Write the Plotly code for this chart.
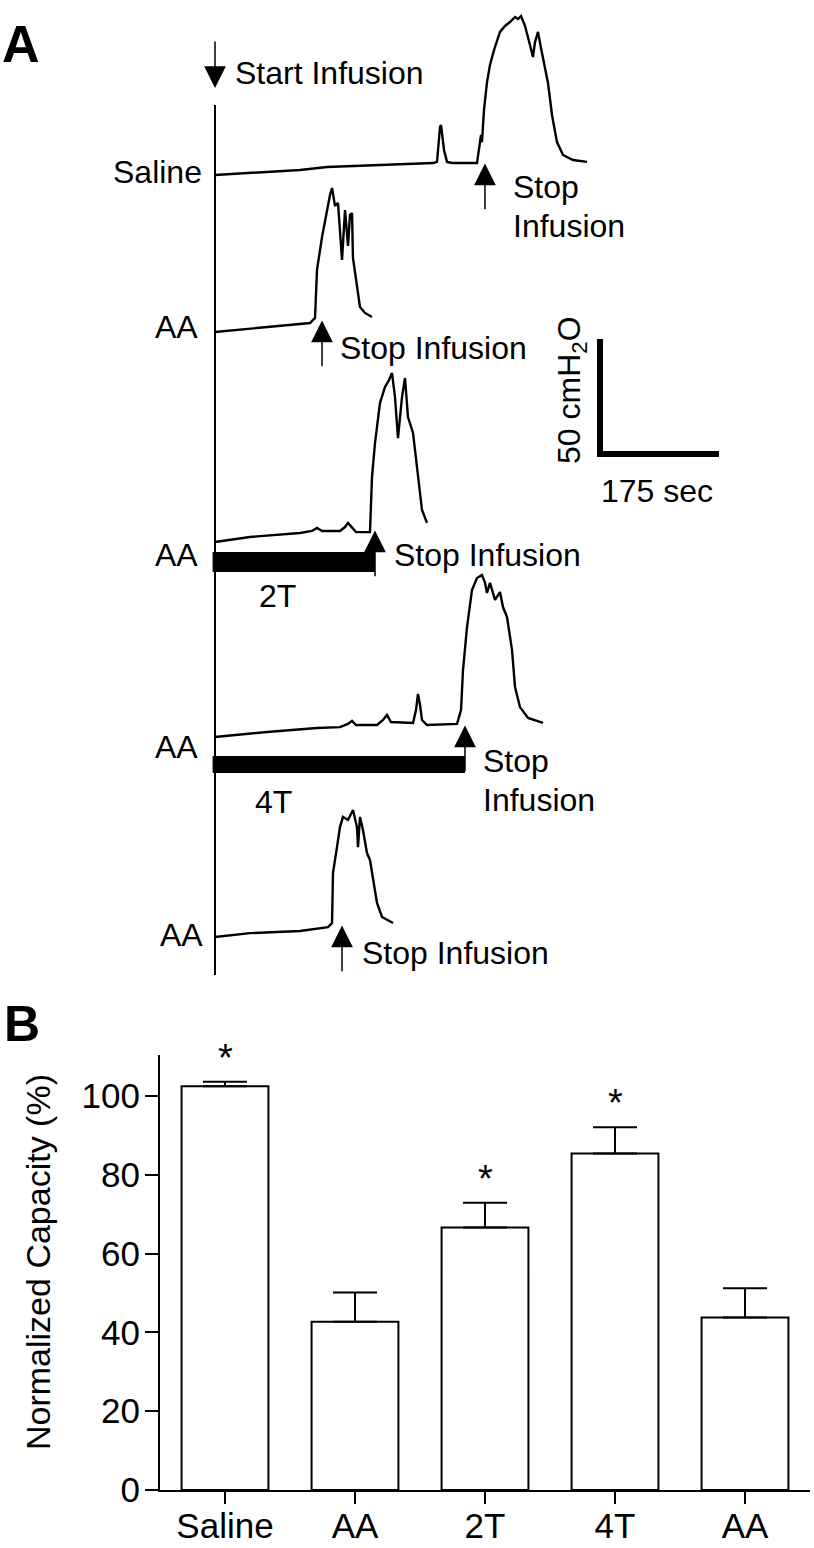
import plotly.graph_objects as go

# ---------------- Panel A data: cystometrogram traces ----------------
# time (s) from start of infusion, pressure (cmH2O) relative to trace baseline
saline_t = [0, 51.5, 125, 164.7, 272, 320.6, 326.5, 330.9, 332.4, 336.8, 341.2, 348.5, 385.3, 388.2,
            391.2, 392.6, 395.6, 400, 404.4, 410.3, 419.1, 426.5, 433.8, 441.2, 445.6, 450, 455.9,
            463.2, 467.6, 470.6, 475, 479.4, 483.8, 489.7, 495.6, 502.9, 511.8, 526.5, 547.1]
saline_p = [0, 0.9, 2.2, 3.5, 4.8, 5.2, 5.7, 20.9, 21.7, 10.9, 5.7, 5.2, 5.2, 10.9,
            17.4, 14.3, 28.3, 40.4, 47.8, 54.3, 62.2, 64.8, 66.5, 68.7, 67.8, 69.1, 64.8,
            56.5, 51.3, 57.8, 62.2, 55.2, 49.1, 40.0, 26.1, 14.3, 8.7, 6.5, 5.7]

aa1_t = [0, 76.5, 139.7, 147.1, 150, 157.4, 164.7, 169.1, 172.1, 176.5, 180.9, 186.8, 191.2,
         195.6, 198.5, 201.5, 202.9, 208.8, 213.2, 220.6, 230.9]
aa1_p = [0, 2.2, 3.9, 6.1, 27, 41.3, 53, 59.6, 62.6, 54.8, 56.1, 31.3, 53,
         37.4, 50.9, 51.7, 32.2, 19.6, 10.9, 8.3, 6.5]

aa2t_t = [0, 51.5, 125, 142.6, 150, 157.4, 183.8, 191.2, 195.6, 201.5, 207.4, 227.9, 230.9, 235.3,
          239.7, 242.6, 250, 255.9, 260.3, 264.7, 269.1, 272.1, 275, 279.4, 283.8, 291.2, 297.1,
          304.4, 311.8]
aa2t_p = [0, 2.2, 3.9, 4.8, 6.1, 4.8, 4.8, 6.5, 8.3, 6.1, 4.3, 4.3, 28.3, 43,
          53, 60.4, 67.4, 70.4, 73.5, 63, 45.2, 53, 63, 71.3, 54.3, 47.4, 31.3,
          13.9, 8.3]

aa4t_t = [0, 76.5, 150, 183.8, 195.6, 201.5, 207.4, 238.2, 247.1, 252.9, 258.8, 291.2, 295.6,
          298.5, 301.5, 304.4, 311.8, 355.9, 361.8, 364.7, 370.6, 377.9, 385.3, 392.6, 397.1,
          400, 404.4, 411.8, 419.1, 423.5, 429.4, 436.8, 441.2, 448.5, 460.3, 482.4]
aa4t_p = [0, 2.2, 3.9, 4.3, 5.7, 7, 5.2, 5.2, 7.4, 9.6, 6.5, 6.1, 11.7,
          18.7, 13.9, 7.4, 5.2, 5.7, 11.7, 29.1, 47.8, 63.9, 69.1, 70.4, 67,
          62.6, 67, 59.6, 63, 56.5, 52.2, 37.8, 21.7, 13, 8.3, 6.1]

aa5_t = [0, 51.5, 125, 166.2, 172.1, 173.5, 179.4, 183.8, 188.2, 195.6, 202.9, 208.8, 210.3,
         213.2, 217.6, 223.5, 227.9, 232.4, 238.2, 245.6, 261.8]
aa5_p = [0, 1.7, 2.6, 4.3, 6.1, 27.8, 39.1, 47.8, 52.2, 50.9, 55.2, 47.8, 39.1,
         52.2, 46.5, 36.5, 33.5, 24.8, 14.8, 8.7, 6.1]

row_labels = ["Saline", "AA", "AA", "AA", "AA"]
stop_times = [397, 157.4, 235.3, 367.6, 186.8]
treat_labels = {2: "2T", 3: "4T"}
scale_time = 175      # sec
scale_press = 50      # cmH2O

# ---------------- Panel B data ----------------
groups = ["Saline", "AA", "2T", "4T", "AA"]
capacity = [102.5, 42.7, 66.6, 85.4, 43.8]
sem = [1.1, 7.4, 6.3, 6.7, 7.4]
signif = [True, False, True, True, False]
yticks = [0, 20, 40, 60, 80, 100]

# ---------------- layout constants ----------------
W, H = 814, 1548
PX_S = 0.68       # px per second
PX_CM = 2.3       # px per cmH2O
T0_PX = 215       # x pixel of infusion start
ROW_PX = [175, 332, 542, 737, 937]
row_off = [(H - b) / PX_CM for b in ROW_PX]
FONT = "Liberation Sans, Arial, sans-serif"

def ya(py):
    return (H - py) / PX_CM

def ta(px):
    return (px - T0_PX) / PX_S

traces = [(saline_t, saline_p), (aa1_t, aa1_p), (aa2t_t, aa2t_p), (aa4t_t, aa4t_p), (aa5_t, aa5_p)]

fig = go.Figure()
for i, (t, p) in enumerate(traces):
    fig.add_trace(go.Scatter(x=t, y=[v + row_off[i] for v in p], mode="lines",
                             line=dict(color="black", width=2.4), xaxis="x", yaxis="y",
                             hoverinfo="skip", showlegend=False))

# scale bar
sb_t, sb_y = ta(600), ya(454)
fig.add_trace(go.Scatter(x=[sb_t, sb_t, sb_t + scale_time], y=[sb_y + scale_press, sb_y, sb_y],
                         mode="lines", line=dict(color="black", width=6), xaxis="x", yaxis="y",
                         hoverinfo="skip", showlegend=False))

# bars
fig.add_trace(go.Bar(x=list(range(len(groups))), y=capacity, width=0.668,
                     marker=dict(color="white", line=dict(color="black", width=2)),
                     error_y=dict(type="data", symmetric=False, array=sem, arrayminus=[0] * len(sem),
                                  color="black", thickness=2, width=22),
                     xaxis="x2", yaxis="y2", showlegend=False, hoverinfo="skip"))

shapes = []
# start-infusion vertical line
shapes.append(dict(type="line", xref="x", yref="y", x0=0, x1=0, y0=ya(105), y1=ya(975),
                   line=dict(color="black", width=2)))
# treatment bars
bar_px = {2: (552, 572), 3: (756, 773)}
for i, (top, bot) in bar_px.items():
    shapes.append(dict(type="rect", xref="x", yref="y", x0=-3.5, x1=stop_times[i],
                       y0=ya(bot), y1=ya(top), fillcolor="black", line=dict(width=0)))

annotations = []

def txt(s, px, py, xanchor="left", size=32, bold=False, angle=0):
    annotations.append(dict(text=("<b>%s</b>" % s) if bold else s, xref="paper", yref="paper",
                            x=px / W, y=1 - py / H, xanchor=xanchor, yanchor="middle",
                            showarrow=False, textangle=angle,
                            font=dict(family=FONT, size=size, color="black")))

def arrow(t, y_tip, y_tail):
    annotations.append(dict(text="", x=t, y=y_tip, ax=t, ay=y_tail, xref="x", yref="y",
                            axref="x", ayref="y", showarrow=True, arrowhead=2, arrowsize=2.9,
                            arrowwidth=1.5, arrowcolor="black", standoff=0, startstandoff=0))

# start infusion arrow
arrow(0, ya(88), ya(40))
txt("Start Infusion", 233, 73)
# stop arrows
for i, ts in enumerate(stop_times):
    arrow(ts, row_off[i] + 5, row_off[i] - 15.5)

# row labels
label_px = [(204, 172), (200, 327), (200, 555), (200, 747), (205, 935)]
for lab, (px, py) in zip(row_labels, label_px):
    txt(lab, px, py, xanchor="right")

txt("Stop", 511, 187)
txt("Infusion", 511, 226)
txt("Stop Infusion", 338, 348)
txt("Stop Infusion", 392, 555)
txt("Stop", 481, 761)
txt("Infusion", 481, 800)
txt("Stop Infusion", 360, 953)
txt(treat_labels[2], 257, 596)
txt(treat_labels[3], 253, 802)

# scale bar text
txt("50 cmH<sub>2</sub>O", 571, 390, xanchor="center", angle=-90)
txt("%d sec" % scale_time, 657, 491, xanchor="center")

# panel letters
txt("A", 0, 44, size=52, bold=True)
txt("B", 2, 1024, size=50, bold=True)

# y-axis title panel B
txt("Normalized Capacity (%)", 38, 1262, xanchor="center", size=34, angle=-90)

# asterisks
for i, s in enumerate(signif):
    if s:
        annotations.append(dict(text="*", x=i, y=capacity[i] + sem[i], xref="x2", yref="y2",
                                yshift=24, showarrow=False, xanchor="center", yanchor="middle",
                                font=dict(family=FONT, size=38, color="black")))

y2_top = 110.5
fig.update_layout(
    template="none",
    width=W, height=H, margin=dict(l=0, r=0, t=0, b=0, pad=0, autoexpand=False),
    paper_bgcolor="white", plot_bgcolor="rgba(0,0,0,0)",
    showlegend=False, shapes=shapes, annotations=annotations,
    xaxis=dict(domain=[0, 1], range=[ta(0), ta(W)], visible=False, fixedrange=True,
               automargin=False),
    yaxis=dict(domain=[0, 1], range=[0, H / PX_CM], visible=False, fixedrange=True,
               automargin=False),
    xaxis2=dict(domain=[160 / W, 810 / W], range=[-0.5, 4.5], anchor="y2",
                tickvals=list(range(len(groups))), ticktext=groups, ticks="outside",
                ticklen=12, tickwidth=2, tickcolor="black", showline=True, linewidth=2,
                linecolor="black", showgrid=False, zeroline=False, automargin=False,
                ticklabelstandoff=-8,
                tickfont=dict(family=FONT, size=35, color="black")),
    yaxis2=dict(domain=[(H - 1490) / H, (H - 1490 + y2_top * 3.94) / H], range=[0, y2_top],
                anchor="x2", tickvals=yticks, ticks="outside", ticklen=13, tickwidth=2,
                tickcolor="black", showline=True, linewidth=2, linecolor="black",
                showgrid=False, zeroline=False, automargin=False, ticklabelstandoff=-2,
                tickfont=dict(family=FONT, size=35, color="black")),
)

fig.write_html("out.html", config={"displayModeBar": False},
               post_script="document.body.style.margin='0px';document.body.style.overflow='hidden';")
